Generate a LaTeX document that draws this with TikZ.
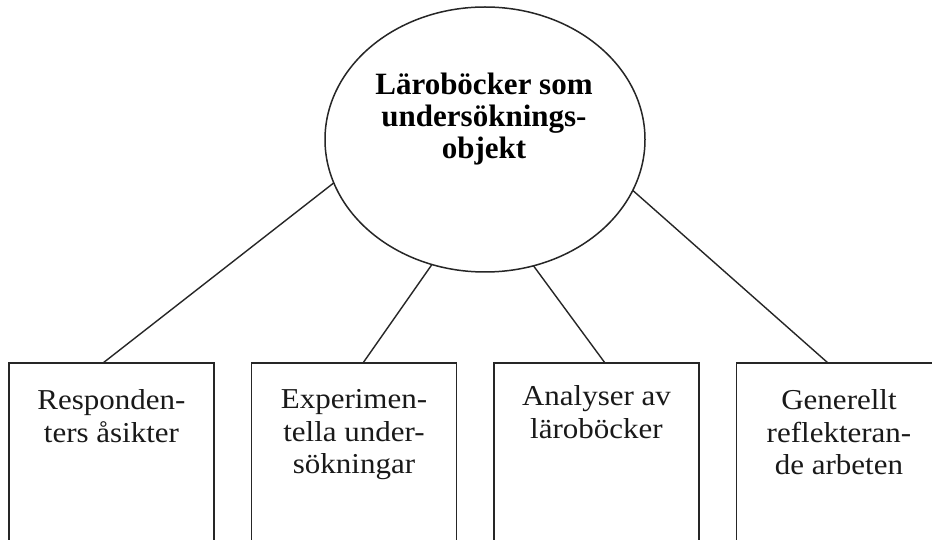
\documentclass[tikz,border=0pt]{standalone}
\usepackage{fontspec}
\setmainfont{Liberation Serif}
\usetikzlibrary{shapes.geometric}
\newcommand\tightlines{\lineskiplimit=-100pt\relax}
\begin{document}
\begin{tikzpicture}[x=1pt,y=1pt,
  shapeline/.style={draw=black!85, line width=1.5pt},
  boxshape/.style={shapeline, rectangle, minimum width=205pt, minimum height=200pt, inner sep=0pt, outer sep=0pt, anchor=north west},
  topshape/.style={shapeline, ellipse, minimum width=320pt, minimum height=265pt, inner sep=0pt, outer sep=0pt},
  boxtext/.style={anchor=north, align=center, inner sep=0pt, yscale=0.93, text=black!90, font=\fontsize{31}{35}\selectfont\tightlines},
  toptext/.style={anchor=north, align=center, inner sep=0pt, text=black, font=\bfseries\fontsize{31}{32}\selectfont\tightlines},
  link/.style={draw=black!85, line width=1.4pt}]
\useasboundingbox (0,0) rectangle (932,539);
\clip (0,0) rectangle (932,539);
\fill[white] (0,0) rectangle (932,539);

\node[topshape] (top) at (485,399.5) {};
\node[toptext] (toptxt) at (484,466) {Läroböcker som\\undersöknings-\\objekt};

\node[boxshape] (b1) at (9,176) {};
\node[boxshape] (b2) at (251.5,176) {};
\node[boxshape] (b3) at (494,176) {};
\node[boxshape] (b4) at (736.5,176) {};

\node[boxtext] (t1) at (111.5,149.7) {Responden-\\ters åsikter};
\node[boxtext] (t2) at (354,149.7) {Experimen-\\tella under-\\sökningar};
\node[boxtext] (t3) at (596.5,153.7) {Analyser av\\läroböcker};
\node[boxtext] (t4) at (839,149.7) {Generellt\\reflekteran-\\de arbeten};

\draw[link] ([xshift=-8.5pt]b1.north) -- (top.196.7);
\draw[link] ([xshift=9pt]b2.north) -- (top.247.8);
\draw[link] ([xshift=8.5pt]b3.north) -- (top.291.3);
\draw[link] ([xshift=-11pt]b4.north) -- (top.341.2);
\end{tikzpicture}
\end{document}
